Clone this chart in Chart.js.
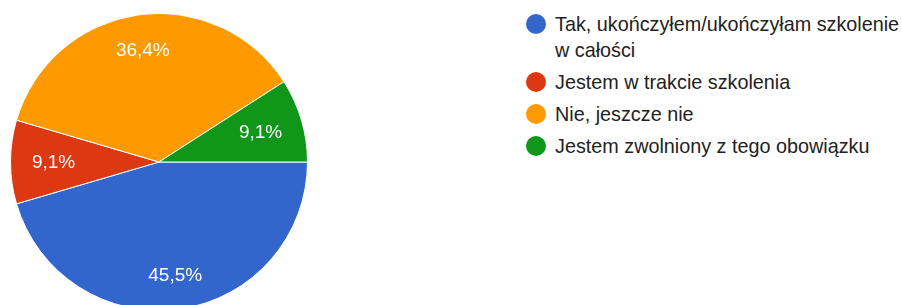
<!DOCTYPE html>
<html>
<head>
<meta charset="utf-8">
<script src="https://cdn.jsdelivr.net/npm/chart.js@4/dist/chart.umd.min.js"></script>
<style>
  html, body { margin:0; padding:0; width:902px; height:305px; overflow:hidden; background:#fff; }
  #wrap { position:absolute; left:10px; top:13px; width:298px; height:298px; }
  #legend { position:absolute; left:526px; top:11px; font-family: "Liberation Sans", Arial, sans-serif; font-size:19.8px; color:#222; }
  .item { position:relative; padding-left:29px; width:350px; line-height:26px; margin-bottom:6px; }
  .dot { position:absolute; left:0; top:3px; width:20px; height:20px; border-radius:50%; }
</style>
</head>
<body>
<div id="wrap"><canvas id="c" width="298" height="298"></canvas></div>
<div id="legend"></div>
<script>
const categories = ["Tak, ukończyłem/ukończyłam szkolenie w całości", "Jestem w trakcie szkolenia", "Nie, jeszcze nie", "Jestem zwolniony z tego obowiązku"];
const values = [5, 1, 4, 1];
const percentLabels = ["45,5%", "9,1%", "36,4%", "9,1%"];
const colors = ["#3366CC", "#DC3912", "#FF9900", "#109618"];

const legend = document.getElementById('legend');
categories.forEach((c, i) => {
  const d = document.createElement('div');
  d.className = 'item';
  d.innerHTML = '<span class="dot" style="background:' + colors[i] + '"></span>' + c;
  legend.appendChild(d);
});

const labelPlugin = {
  id: 'sliceLabels',
  afterDatasetsDraw(chart) {
    const ctx = chart.ctx;
    const meta = chart.getDatasetMeta(0);
    ctx.save();
    ctx.font = '19px "Liberation Sans", Arial, sans-serif';
    ctx.fillStyle = '#ffffff';
    ctx.textAlign = 'center';
    ctx.textBaseline = 'middle';
    meta.data.forEach((arc, i) => {
      const p = arc.getProps(['x','y','startAngle','endAngle','outerRadius']);
      const mid = (p.startAngle + p.endAngle) / 2;
      const r = p.outerRadius * (0.775 - 0.065 * Math.abs(Math.cos(mid)));
      ctx.fillText(percentLabels[i], p.x + Math.cos(mid) * r, p.y + Math.sin(mid) * r + 1);
    });
    ctx.restore();
  }
};

new Chart(document.getElementById('c'), {
  type: 'pie',
  data: {
    labels: categories,
    datasets: [{ data: values, backgroundColor: colors, borderColor: '#ffffff', borderWidth: 1 }]
  },
  options: {
    responsive: false,
    animation: false,
    rotation: 90,
    layout: { padding: 0 },
    plugins: { legend: { display: false }, tooltip: { enabled: false } }
  },
  plugins: [labelPlugin]
});
</script>
</body>
</html>
